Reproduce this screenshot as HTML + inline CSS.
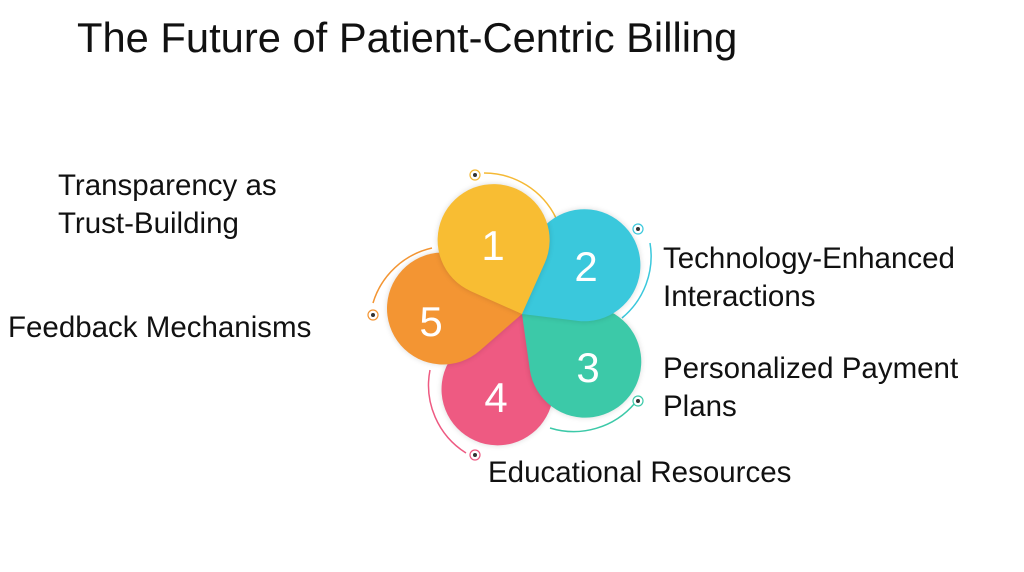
<!DOCTYPE html>
<html><head><style>
body{margin:0;width:1024px;height:572px;background:#fff;position:relative;overflow:hidden;font-family:"Liberation Sans",sans-serif;}
.t{position:absolute;color:#111;font-size:29.5px;line-height:38px;white-space:nowrap;}
.p{position:absolute;left:410px;top:202px;width:112px;height:112px;border-radius:50% 50% 0 50%;transform-origin:100% 100%;box-shadow:0 0 6px rgba(0,0,0,.15);}
.n{position:absolute;color:#fff;font-size:42px;transform:translate(-50%,-50%);}
</style></head><body>
<div class="t" style="left:77px;top:13px;font-size:41.7px;line-height:50px;">The Future of Patient-Centric Billing</div>
<div class="t" style="left:58px;top:167px;">Transparency as<br>Trust-Building</div>
<div class="t" style="left:8px;top:309px;">Feedback Mechanisms</div>
<div class="t" style="left:663px;top:240px;">Technology-Enhanced<br>Interactions</div>
<div class="t" style="left:663px;top:350px;">Personalized Payment<br>Plans</div>
<div class="t" style="left:488px;top:454px;">Educational Resources</div>
<svg style="position:absolute;left:0;top:0" width="1024" height="572" fill="none" stroke-width="1.5">
<path d="M484 173 A80 80 0 0 1 556 218" stroke="#f5b935"/>
<path d="M650 243 A80 80 0 0 1 622 318" stroke="#3ac8dc"/>
<path d="M635 403 A80 80 0 0 1 550 428" stroke="#3cc9a8"/>
<path d="M466 453 A80 80 0 0 1 430 370" stroke="#ee5a82"/>
<path d="M373 303 A80 80 0 0 1 432 248" stroke="#f39533"/>
<g fill="#fff" stroke-width="1.2">
<circle cx="475" cy="175" r="5" stroke="#f5b935"/><circle cx="638" cy="229" r="5" stroke="#3ac8dc"/>
<circle cx="638" cy="401" r="5" stroke="#3cc9a8"/><circle cx="475" cy="455" r="5" stroke="#ee5a82"/>
<circle cx="373" cy="315" r="5" stroke="#f39533"/></g>
<g fill="#333"><circle cx="475" cy="175" r="2"/><circle cx="638" cy="229" r="2"/><circle cx="638" cy="401" r="2"/><circle cx="475" cy="455" r="2"/><circle cx="373" cy="315" r="2"/></g>
</svg>
<div class="p" style="background:#ee5a82;transform:rotate(243deg)"></div>
<div class="p" style="background:#3cc9a8;transform:rotate(172deg)"></div>
<div class="p" style="background:#f39533;transform:rotate(319deg)"></div>
<div class="p" style="background:#3ac8dc;transform:rotate(97deg)"></div>
<div class="p" style="background:#f8bd33;transform:rotate(24deg)"></div>
<div class="n" style="left:493px;top:246px">1</div>
<div class="n" style="left:586px;top:267px">2</div>
<div class="n" style="left:588px;top:368px">3</div>
<div class="n" style="left:496px;top:398px">4</div>
<div class="n" style="left:431px;top:322px">5</div>
</body></html>
